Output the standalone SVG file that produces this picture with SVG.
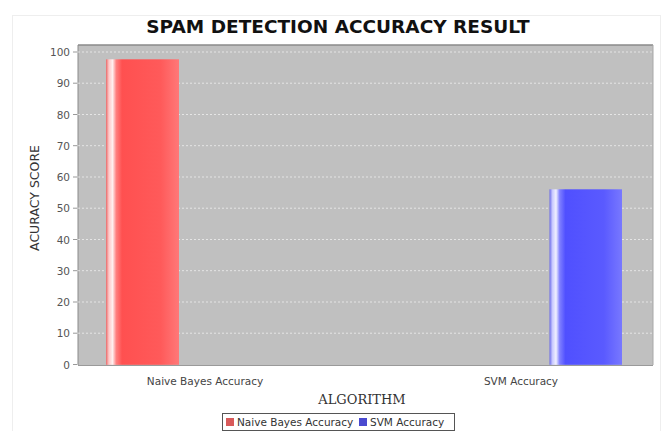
<svg xmlns="http://www.w3.org/2000/svg" width="667" height="431" viewBox="0 0 667 431">
  <defs>
    <linearGradient id="gRed" x1="0" y1="0" x2="1" y2="0">
      <stop offset="0" stop-color="#e86a6a"/>
      <stop offset="0.04" stop-color="#ffc8c8"/>
      <stop offset="0.09" stop-color="#fff0f0"/>
      <stop offset="0.14" stop-color="#ff8080"/>
      <stop offset="0.22" stop-color="#ff5050"/>
      <stop offset="0.75" stop-color="#ff5a5a"/>
      <stop offset="1" stop-color="#ff7878"/>
    </linearGradient>
    <linearGradient id="gBlue" x1="0" y1="0" x2="1" y2="0">
      <stop offset="0" stop-color="#6a6ae8"/>
      <stop offset="0.04" stop-color="#c8c8ff"/>
      <stop offset="0.09" stop-color="#f0f0ff"/>
      <stop offset="0.14" stop-color="#8080ff"/>
      <stop offset="0.22" stop-color="#5050ff"/>
      <stop offset="0.75" stop-color="#5a5aff"/>
      <stop offset="1" stop-color="#7878ff"/>
    </linearGradient>
  </defs>
  <style>
    .title { font-family: "DejaVu Sans", "Liberation Sans", sans-serif; font-weight: bold; font-size: 18.5px; fill: #111; }
    .tick { font-family: "DejaVu Sans", "Liberation Sans", sans-serif; font-size: 10.5px; fill: #555; text-anchor: end; }
    .cat { font-family: "DejaVu Sans", "Liberation Sans", sans-serif; font-size: 10.5px; fill: #444; text-anchor: middle; }
    .axis { font-family: "DejaVu Sans", "Liberation Sans", sans-serif; font-size: 12.5px; fill: #333; }
    .axisx { font-family: "DejaVu Serif", "Liberation Serif", serif; font-size: 13px; fill: #333; text-anchor: middle; }
    .leg { font-family: "DejaVu Sans", "Liberation Sans", sans-serif; font-size: 10.5px; fill: #333; }
    .grid { stroke: #ffffff; stroke-width: 0.8; stroke-dasharray: 2 2; opacity: 0.75; }
  </style>

  <rect x="0" y="0" width="667" height="431" fill="#ffffff"/>
  <!-- chart frame -->
  <rect x="12.5" y="15.5" width="648" height="420" fill="#ffffff" stroke="#eeeeee"/>

  <text class="title" x="338" y="33" text-anchor="middle">SPAM DETECTION ACCURACY RESULT</text>

  <!-- plot area -->
  <g id="plot">
    <rect x="78" y="45" width="575" height="320" fill="#c0c0c0"/>
    <line x1="78" y1="45" x2="653" y2="45" stroke="#8a8a8a" stroke-width="1.5"/>
    <line x1="78" y1="45" x2="78" y2="365" stroke="#8a8a8a" stroke-width="1"/>
    <line x1="653" y1="45" x2="653" y2="365" stroke="#a8a8a8" stroke-width="1"/>
    <g class="grid">
      <line x1="78" y1="52" x2="653" y2="52"/>
      <line x1="78" y1="83.2" x2="653" y2="83.2"/>
      <line x1="78" y1="114.5" x2="653" y2="114.5"/>
      <line x1="78" y1="145.7" x2="653" y2="145.7"/>
      <line x1="78" y1="177" x2="653" y2="177"/>
      <line x1="78" y1="208.2" x2="653" y2="208.2"/>
      <line x1="78" y1="239.5" x2="653" y2="239.5"/>
      <line x1="78" y1="270.7" x2="653" y2="270.7"/>
      <line x1="78" y1="302" x2="653" y2="302"/>
      <line x1="78" y1="333.2" x2="653" y2="333.2"/>
    </g>
    <line x1="78" y1="365.5" x2="653" y2="365.5" stroke="#9a9a9a" stroke-width="1"/>
  </g>

  <!-- y axis ticks -->
  <g id="yaxis">
    <g stroke="#999" stroke-width="1">
      <line x1="73" y1="52" x2="77" y2="52"/>
      <line x1="73" y1="83.2" x2="77" y2="83.2"/>
      <line x1="73" y1="114.5" x2="77" y2="114.5"/>
      <line x1="73" y1="145.7" x2="77" y2="145.7"/>
      <line x1="73" y1="177" x2="77" y2="177"/>
      <line x1="73" y1="208.2" x2="77" y2="208.2"/>
      <line x1="73" y1="239.5" x2="77" y2="239.5"/>
      <line x1="73" y1="270.7" x2="77" y2="270.7"/>
      <line x1="73" y1="302" x2="77" y2="302"/>
      <line x1="73" y1="333.2" x2="77" y2="333.2"/>
      <line x1="73" y1="364.5" x2="77" y2="364.5"/>
    </g>
    <text class="tick" x="70" y="56">100</text>
    <text class="tick" x="70" y="87">90</text>
    <text class="tick" x="70" y="118.5">80</text>
    <text class="tick" x="70" y="149.5">70</text>
    <text class="tick" x="70" y="181">60</text>
    <text class="tick" x="70" y="212">50</text>
    <text class="tick" x="70" y="243.5">40</text>
    <text class="tick" x="70" y="274.5">30</text>
    <text class="tick" x="70" y="306">20</text>
    <text class="tick" x="70" y="337">10</text>
    <text class="tick" x="70" y="368.5">0</text>
    <text class="axis" transform="translate(39,198) rotate(-90)" text-anchor="middle">ACURACY SCORE</text>
  </g>

  <!-- bars -->
  <g id="bar-naive-bayes">
    <rect x="106" y="59.3" width="73" height="305.5" fill="url(#gRed)"/>
  </g>
  <g id="bar-svm">
    <rect x="549.5" y="189.3" width="72.5" height="175.5" fill="url(#gBlue)"/>
  </g>

  <!-- x axis -->
  <g id="xaxis">
    <text class="cat" x="205" y="385">Naive Bayes Accuracy</text>
    <text class="cat" x="521" y="385">SVM Accuracy</text>
    <text class="axisx" x="362" y="404">ALGORITHM</text>
  </g>

  <!-- legend -->
  <g id="legend">
    <rect x="222.5" y="413.5" width="232" height="17" fill="#ffffff" stroke="#555" stroke-width="1"/>
    <rect x="226" y="418" width="8" height="8" fill="#d85a5a"/>
    <text class="leg" x="237" y="426">Naive Bayes Accuracy</text>
    <rect x="359" y="418" width="8" height="8" fill="#4a4ad0"/>
    <text class="leg" x="370" y="426">SVM Accuracy</text>
  </g>
</svg>
